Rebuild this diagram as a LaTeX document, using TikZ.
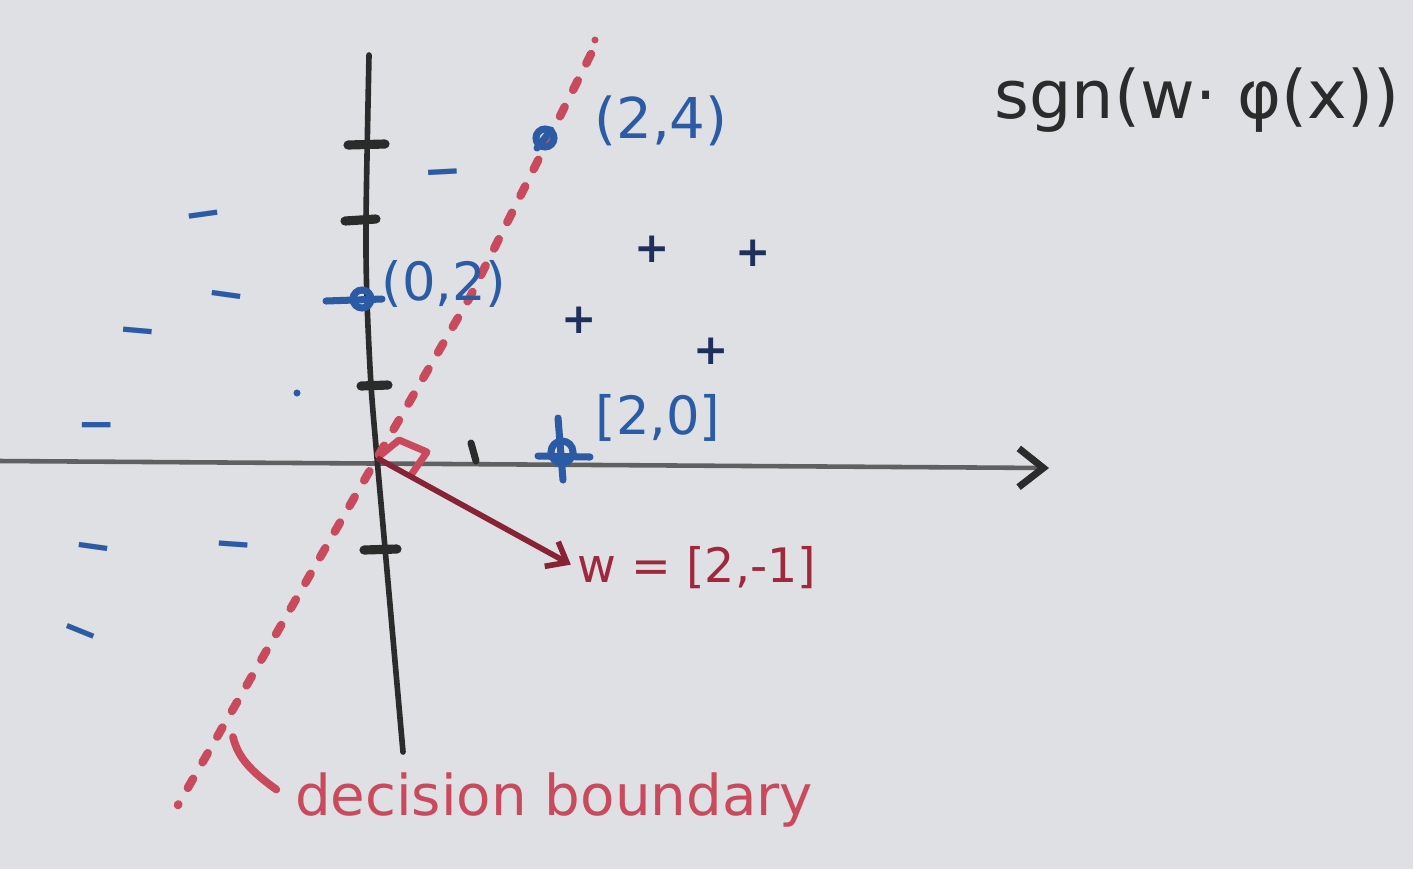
\documentclass[tikz,border=0pt]{standalone}
\usepackage{fontspec}
\setmainfont{DejaVu Sans}
\usetikzlibrary{calc,arrows.meta,positioning}

\begin{document}
\begin{tikzpicture}[x=0.01cm, y=-0.01cm, >=Stealth,
    axisPen/.style={line width=1.6pt, axisCol, line cap=round},
    tickPen/.style={line width=2.6pt, axisCol, line cap=round},
    bluePen/.style={line width=2pt, markerBlue, line cap=round},
    negSign/.style={markerBlue, font=\bfseries\fontsize{13}{13}\selectfont, inner sep=0pt},
    posSign/.style={plusCol, font=\bfseries\fontsize{12}{12}\selectfont, inner sep=0pt},
    pointLabel/.style={markerBlue, font=\fontsize{15}{15}\selectfont, inner sep=0pt}]
    % Colours
    \definecolor{boardCol}{HTML}{DEE0E3}
    \definecolor{axisCol}{HTML}{2B2B2B}
    \definecolor{markerBlue}{HTML}{2C5BA6}
    \definecolor{plusCol}{HTML}{1F2F5C}
    \definecolor{boundCol}{HTML}{C94A5C}
    \definecolor{wCol}{HTML}{A0283E}

    % 0. Board
    \useasboundingbox (0,0) rectangle (1413,869);
    \fill[boardCol] (0,0) rectangle (1413,869);

    % 1. Axes
    \coordinate (O) at (377,458);
    \coordinate (xStart) at (0,461);
    \coordinate (xEnd) at (1049,468);
    \coordinate (yTop) at (369,55);
    \coordinate (yBot) at (403,752);
    \draw[axisPen, line width=1.3pt, axisCol!75,
        -{Straight Barb[length=7pt, width=11pt, line width=2pt, color=axisCol]}] (xStart) -- (xEnd);
    \draw[axisPen] plot[smooth] coordinates {(yTop) (366,220) (367,300) (371,385) (O) (385,548) (yBot)};
    \foreach \ax/\ay/\bx/\by in {348/145/385/144, 345/221/376/219, 361/386/388/385, 364/550/397/549} {
        \draw[tickPen] (\ax,\ay) -- (\bx,\by);
    }
    \draw[tickPen, line width=2pt] (471,443) -- (476,461);

    % 2. Decision boundary
    \coordinate (bTop) at (595,40);
    \coordinate (bBot) at (178,805);
    \fill[boundCol] (bTop) circle (3.5);
    \draw[boundCol, line width=2.4pt, line cap=round, dash pattern=on 3pt off 5.4pt]
        (591,54) -- (470,297) -- (O) -- (bBot);
    \draw[boundCol, line width=2pt, line join=round]
        (O) -- ($(O)+(22,-18)$) -- ($(O)+(50,-6)$) -- ($(O)+(34,17)$);

    % 3. Weight vector
    \node[wCol, font=\fontsize{13.5}{13.5}\selectfont, anchor=west, inner sep=0pt] (wLab) at (577,568) {w = [2,-1]};
    \draw[wCol!85!black, line width=1.6pt, shorten >=2pt,
        -{Straight Barb[length=5pt, width=8pt]}] (O) -- (wLab.west);

    % 4. Labelled points
    \coordinate (p24) at (545,138);
    \coordinate (p02) at (362,299);
    \coordinate (p20) at (562,452);
    \draw[bluePen] (p24) circle (9);
    \draw[bluePen] (p24) ++(-8,10) -- ++(14,-18);
    \draw[bluePen] (p02) circle (9);
    \draw[bluePen] (326,301) -- (382,299);
    \draw[bluePen] (p20) circle (11);
    \draw[bluePen] (558,418) -- (563,480);
    \draw[bluePen] (538,456) -- (590,457);
    \node[pointLabel, font=\fontsize{16}{16}\selectfont] (lab24) at (661,121) {(2,4)};
    \node[pointLabel] (lab02) at (444,284) {(0,2)};
    \node[pointLabel] (lab20) at (658,418) {[2,0]};

    % 5. Class signs
    \foreach \px/\py/\rot [count=\i] in {443/178/3, 204/220/8, 226/301/-8, 137/337/-5, 97/431/0, 93/553/-8, 233/550/-4, 78/637/-22} {
        \node[negSign, rotate=\rot] (neg\i) at (\px,\py) {−};
    }
    \fill[markerBlue] (297,393) circle (3.5);
    \foreach \px/\py [count=\i] in {652/249, 753/253, 579/320, 711/351} {
        \node[posSign] (pos\i) at (\px,\py) {+};
    }

    % 6. Formula and annotation
    \node[axisCol, font=\fontsize{19}{19}\selectfont] (sgnLab) at (1197,100) {sgn(w· φ(x))};
    \node[boundCol, font=\fontsize{16}{16}\selectfont, anchor=base, inner sep=0pt] (dbLab) at (554,815) {decision boundary};
    \coordinate (hookTip) at (233,737);
    \draw[boundCol, line width=2.2pt, line cap=round]
        (hookTip) .. controls (238,758) and (252,772) .. ($(dbLab.west)+(-18,-10)$);
\end{tikzpicture}
\end{document}
